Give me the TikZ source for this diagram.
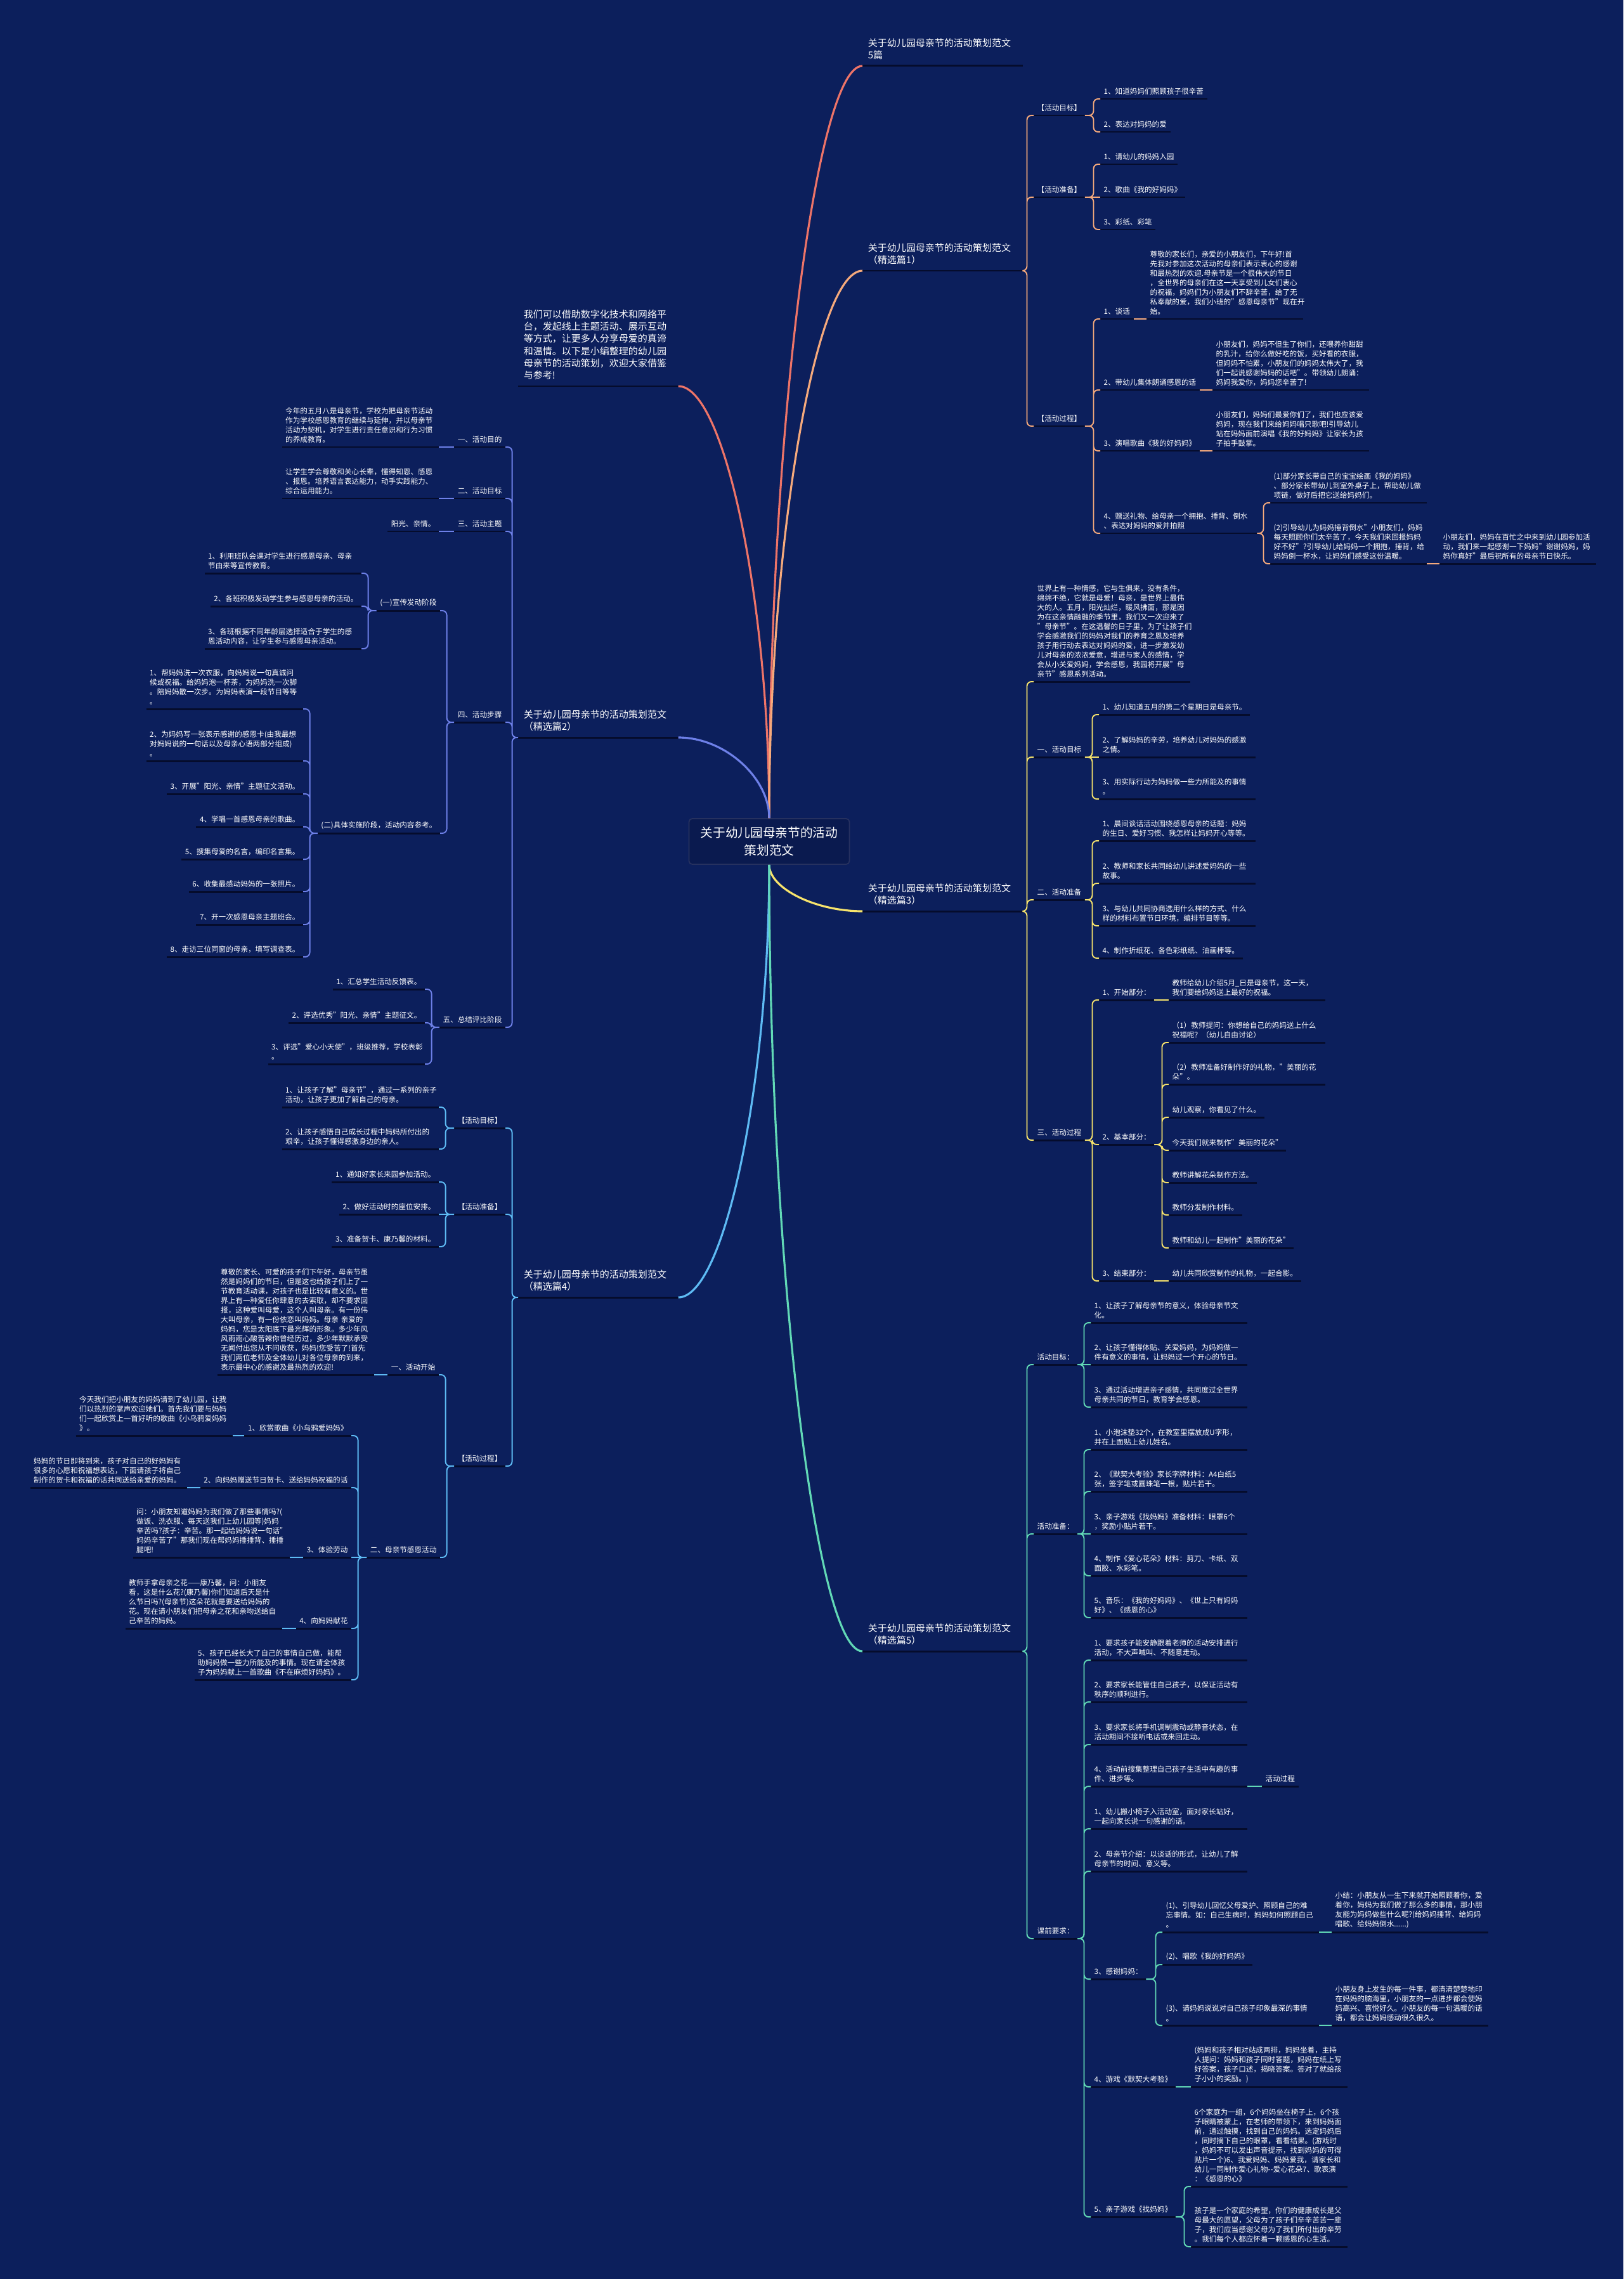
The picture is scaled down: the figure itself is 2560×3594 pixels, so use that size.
\documentclass[tikz,border=0pt]{standalone}
\usepackage{fontspec}
\setmainfont{Noto Sans CJK SC}
\usepackage{tikz}

\definecolor{bgblue}{HTML}{0C1F5C}
\definecolor{rootfill}{HTML}{0A1A4F}
\definecolor{rootline}{HTML}{26315F}
\definecolor{ulc}{HTML}{050C2C}
\definecolor{cred}{HTML}{EE7468}
\definecolor{corange}{HTML}{F6AA7C}
\definecolor{cpurple}{HTML}{6E80E8}
\definecolor{cyellow}{HTML}{F8E46C}
\definecolor{cblue}{HTML}{5EBBF4}
\definecolor{cgreen}{HTML}{62D9B6}

\tikzset{
  uline/.style={draw=ulc, line width=0.85pt},
  txt/.style={text=white, inner xsep=1.4pt, inner ysep=1.6pt, align=left,
    font=\fontsize{3.3}{4.27}\selectfont,
    append after command={(\tikzlastnode.south west) edge[uline] (\tikzlastnode.south east)}},
  rt/.style={txt, anchor=south west},
  lt/.style={txt, anchor=south east},
  blk/.style={text width=2.36cm},
  ttl/.style={txt, anchor=south west, text width=2.35cm, inner xsep=2.3pt, inner ysep=2.6pt,
    font=\fontsize{4.27}{5.5}\selectfont},
  root/.style={draw=rootline, fill=rootfill, line width=0.5pt, rounded corners=1.5pt,
    minimum width=2.53cm, minimum height=0.72cm, text=white, align=center,
    font=\fontsize{5.6}{7.7}\selectfont},
  mainbr/.style={line width=0.9pt},
  br/.style={line width=0.55pt, rounded corners=2pt},
  rbr/.style={br, to path={-| ([xshift=-3pt]\tikztotarget.south west) -- (\tikztotarget.south west)}},
  lbr/.style={br, to path={-| ([xshift=3pt]\tikztotarget.south east) -- (\tikztotarget.south east)}},
  rst/.style={br, to path={-- (\tikztotarget.south west)}},
  lst/.style={br, to path={-- (\tikztotarget.south east)}},
}

\begin{document}
\begin{tikzpicture}[x=0.01cm, y=-0.01cm]

% Background
\fill[bgblue] (0,0) rectangle (2560,3594);
\useasboundingbox (0,0) rectangle (2560,3594);

% Root
\node[root] (root) at (1213,1327) {关于幼儿园母亲节的活动\\策划范文};

% Titles
\node[ttl] (t0) at (1360,104) {关于幼儿园母亲节的活动策划范文\\5篇};
\node[ttl] (intro) at (817,609) {我们可以借助数字化技术和网络平\\台，发起线上主题活动、展示互动\\等方式，让更多人分享母爱的真谛\\和温情。以下是小编整理的幼儿园\\母亲节的活动策划，欢迎大家借鉴\\与参考!};
\node[ttl] (t1) at (1360,427) {关于幼儿园母亲节的活动策划范文\\（精选篇1）};
\node[ttl] (t2) at (817,1163) {关于幼儿园母亲节的活动策划范文\\（精选篇2）};
\node[ttl] (t3) at (1360,1437) {关于幼儿园母亲节的活动策划范文\\（精选篇3）};
\node[ttl] (t4) at (817,2046) {关于幼儿园母亲节的活动策划范文\\（精选篇4）};
\node[ttl] (t5) at (1360,2604) {关于幼儿园母亲节的活动策划范文\\（精选篇5）};

\draw[mainbr, cred] (root.north) .. controls +(0,-594) and +(-74,0) .. (t0.south west);
\draw[mainbr, cred] (root.north) .. controls +(0,-341) and +(73,0) .. (intro.south east);
\draw[mainbr, corange] (root.north) .. controls +(0,-432) and +(-74,0) .. (t1.south west);
\draw[mainbr, cpurple] (root.north) .. controls +(0,-64) and +(73,0) .. (t2.south east);
\draw[mainbr, cyellow] (root.south) .. controls +(0,37) and +(-74,0) .. (t3.south west);
\draw[mainbr, cblue] (root.south) .. controls +(0,342) and +(73,0) .. (t4.south east);
\draw[mainbr, cgreen] (root.south) .. controls +(0,620) and +(-74,0) .. (t5.south west);

% Branch 1
\node[rt] (p1a) at (1630,182) {【活动目标】};
\node[rt] (p1a1) at (1735,156) {1、知道妈妈们照顾孩子很辛苦};
\node[rt] (p1a2) at (1735,208) {2、表达对妈妈的爱};
\node[rt] (p1b) at (1630,311) {【活动准备】};
\node[rt] (p1b1) at (1735,259) {1、请幼儿的妈妈入园};
\node[rt] (p1b2) at (1735,311) {2、歌曲《我的好妈妈》};
\node[rt] (p1b3) at (1735,362) {3、彩纸、彩笔};
\node[rt] (p1c) at (1630,672) {【活动过程】};
\node[rt] (p1c1) at (1735,503) {1、谈话};
\node[rt, blk] (p1c1a) at (1808,503) {尊敬的家长们，亲爱的小朋友们，下午好!首\\先我对参加这次活动的母亲们表示衷心的感谢\\和最热烈的欢迎.母亲节是一个很伟大的节日\\，全世界的母亲们在这一天享受到儿女们衷心\\的祝福，妈妈们为小朋友们不辞辛苦，给了无\\私奉献的爱，我们小班的"感恩母亲节"现在开\\始。};
\node[rt] (p1c2) at (1735,615) {2、带幼儿集体朗诵感恩的话};
\node[rt, blk] (p1c2a) at (1912,615) {小朋友们，妈妈不但生了你们，还喂养你甜甜\\的乳汁，给你么做好吃的饭，买好看的衣服，\\但妈妈不怕累，小朋友们的妈妈太伟大了，我\\们一起说感谢妈妈的话吧"。带领幼儿朗诵：\\妈妈我爱你，妈妈您辛苦了!};
\node[rt] (p1c3) at (1735,711) {3、演唱歌曲《我的好妈妈》};
\node[rt, blk] (p1c3a) at (1912,711) {小朋友们，妈妈们最爱你们了，我们也应该爱\\妈妈，现在我们来给妈妈唱只歌吧!引导幼儿\\站在妈妈面前演唱《我的好妈妈》让家长为孩\\子拍手鼓掌。};
\node[rt, blk] (p1c4) at (1735,841) {4、赠送礼物、给母亲一个拥抱、捶背、倒水\\、表达对妈妈的爱并拍照};
\node[rt, blk] (p1c4a) at (2003,793) {(1)部分家长带自己的宝宝绘画《我的妈妈》\\、部分家长带幼儿到室外桌子上，帮助幼儿做\\项链，做好后把它送给妈妈们。};
\node[rt, blk] (p1c4b) at (2003,889) {(2)引导幼儿为妈妈捶背倒水"小朋友们，妈妈\\每天照顾你们太辛苦了，今天我们来回报妈妈\\好不好"?引导幼儿给妈妈一个拥抱，捶背，给\\妈妈倒一杯水，让妈妈们感受这份温暖。};
\node[rt, blk] (p1c4b1) at (2270,889) {小朋友们，妈妈在百忙之中来到幼儿园参加活\\动，我们来一起感谢一下妈妈"谢谢妈妈，妈\\妈你真好"最后祝所有的母亲节日快乐。};

\draw[rbr, corange] (t1.south east) to (p1a) (t1.south east) to (p1b) (t1.south east) to (p1c);
\draw[rbr, corange] (p1a.south east) to (p1a1) (p1a.south east) to (p1a2);
\draw[rbr, corange] (p1b.south east) to (p1b1) (p1b.south east) to (p1b3);
\draw[rbr, corange] (p1c.south east) to (p1c1) (p1c.south east) to (p1c2) (p1c.south east) to (p1c3) (p1c.south east) to (p1c4);
\draw[rbr, corange] (p1c4.south east) to (p1c4a) (p1c4.south east) to (p1c4b);
\draw[rst, corange] (p1b.south east) to (p1b2) (p1c1.south east) to (p1c1a) (p1c2.south east) to (p1c2a)
  (p1c3.south east) to (p1c3a) (p1c4b.south east) to (p1c4b1);

% Branch 2
\node[lt] (p2a) at (797,705) {一、活动目的};
\node[lt, blk] (p2a1) at (692,705) {今年的五月八是母亲节，学校为把母亲节活动\\作为学校感恩教育的继续与延伸，并以母亲节\\活动为契机，对学生进行责任意识和行为习惯\\的养成教育。};
\node[lt] (p2b) at (797,786) {二、活动目标};
\node[lt, blk] (p2b1) at (692,786) {让学生学会尊敬和关心长辈，懂得知恩、感恩\\、报恩。培养语言表达能力，动手实践能力、\\综合运用能力。};
\node[lt] (p2c) at (797,838) {三、活动主题};
\node[lt] (p2c1) at (692,838) {阳光、亲情。};
\node[lt] (p2d) at (797,1139) {四、活动步骤};
\node[lt] (p2d1) at (694,963) {(一)宣传发动阶段};
\node[lt, blk] (p2d1a) at (570,904) {1、利用班队会课对学生进行感恩母亲、母亲\\节由来等宣传教育。};
\node[lt] (p2d1b) at (570,956) {2、各班积极发动学生参与感恩母亲的活动。};
\node[lt, blk] (p2d1c) at (570,1023) {3、各班根据不同年龄层选择适合于学生的感\\恩活动内容，让学生参与感恩母亲活动。};
\node[lt] (p2d2) at (694,1314) {(二)具体实施阶段，活动内容参考。};
\node[lt, blk] (p2d2a) at (478,1118) {1、帮妈妈洗一次衣服，向妈妈说一句真诚问\\候或祝福。给妈妈泡一杯茶，为妈妈洗一次脚\\。陪妈妈散一次步。为妈妈表演一段节目等等\\。};
\node[lt, blk] (p2d2b) at (478,1200) {2、为妈妈写一张表示感谢的感恩卡(由我最想\\对妈妈说的一句话以及母亲心语两部分组成)\\。};
\node[lt] (p2d2c) at (478,1252) {3、开展"阳光、亲情"主题征文活动。};
\node[lt] (p2d2d) at (478,1304) {4、学唱一首感恩母亲的歌曲。};
\node[lt] (p2d2e) at (478,1355) {5、搜集母爱的名言，编印名言集。};
\node[lt] (p2d2f) at (478,1406) {6、收集最感动妈妈的一张照片。};
\node[lt] (p2d2g) at (478,1458) {7、开一次感恩母亲主题班会。};
\node[lt] (p2d2h) at (478,1509) {8、走访三位同窗的母亲，填写调查表。};
\node[lt] (p2e) at (797,1620) {五、总结评比阶段};
\node[lt] (p2e1) at (670,1560) {1、汇总学生活动反馈表。};
\node[lt] (p2e2) at (670,1613) {2、评选优秀"阳光、亲情"主题征文。};
\node[lt, blk] (p2e3) at (670,1678) {3、评选"爱心小天使"，班级推荐，学校表彰\\。};

\draw[lbr, cpurple] (t2.south west) to (p2a) (t2.south west) to (p2b) (t2.south west) to (p2c) (t2.south west) to (p2d) (t2.south west) to (p2e);
\draw[lst, cpurple] (p2a.south west) to (p2a1) (p2b.south west) to (p2b1) (p2c.south west) to (p2c1);
\draw[lbr, cpurple] (p2d.south west) to (p2d1) (p2d.south west) to (p2d2);
\draw[lbr, cpurple] (p2d1.south west) to (p2d1a) (p2d1.south west) to (p2d1b) (p2d1.south west) to (p2d1c);
\draw[lbr, cpurple] (p2d2.south west) to (p2d2a) (p2d2.south west) to (p2d2b) (p2d2.south west) to (p2d2c) (p2d2.south west) to (p2d2d);
\draw[lbr, cpurple] (p2d2.south west) to (p2d2e) (p2d2.south west) to (p2d2f) (p2d2.south west) to (p2d2g) (p2d2.south west) to (p2d2h);
\draw[lbr, cpurple] (p2e.south west) to (p2e1) (p2e.south west) to (p2e2) (p2e.south west) to (p2e3);

% Branch 3
\node[rt, blk] (p3a) at (1630,1075) {世界上有一种情感，它与生俱来，没有条件，\\绵绵不绝，它就是母爱！母亲，是世界上最伟\\大的人。五月，阳光灿烂，暖风拂面，那是因\\为在这亲情融融的季节里，我们又一次迎来了\\"母亲节"。在这温馨的日子里，为了让孩子们\\学会感激我们的妈妈对我们的养育之恩及培养\\孩子用行动去表达对妈妈的爱，进一步激发幼\\儿对母亲的浓浓爱意，增进与家人的感情，学\\会从小关爱妈妈，学会感恩，我园将开展"母\\亲节"感恩系列活动。};
\node[rt] (p3b) at (1630,1194) {一、活动目标};
\node[rt] (p3b1) at (1733,1127) {1、幼儿知道五月的第二个星期日是母亲节。};
\node[rt, blk] (p3b2) at (1733,1194) {2、了解妈妈的辛劳，培养幼儿对妈妈的感激\\之情。};
\node[rt, blk] (p3b3) at (1733,1260) {3、用实际行动为妈妈做一些力所能及的事情\\。};
\node[rt] (p3c) at (1630,1419) {二、活动准备};
\node[rt, blk] (p3c1) at (1733,1326) {1、晨间谈话活动围绕感恩母亲的话题：妈妈\\的生日、爱好习惯、我怎样让妈妈开心等等。};
\node[rt, blk] (p3c2) at (1733,1393) {2、教师和家长共同给幼儿讲述爱妈妈的一些\\故事。};
\node[rt, blk] (p3c3) at (1733,1460) {3、与幼儿共同协商选用什么样的方式、什么\\样的材料布置节日环境，编排节目等等。};
\node[rt] (p3c4) at (1733,1511) {4、制作折纸花、各色彩纸纸、油画棒等。};
\node[rt] (p3d) at (1630,1798) {三、活动过程};
\node[rt] (p3d1) at (1733,1577) {1、开始部分：};
\node[rt, blk] (p3d1a) at (1843,1577) {教师给幼儿介绍5月\_日是母亲节，这一天，\\我们要给妈妈送上最好的祝福。};
\node[rt] (p3d2) at (1733,1805) {2、基本部分：};
\node[rt, blk] (p3d2a) at (1843,1644) {（1）教师提问：你想给自己的妈妈送上什么\\祝福呢？（幼儿自由讨论）};
\node[rt, blk] (p3d2b) at (1843,1710) {（2）教师准备好制作好的礼物，"美丽的花\\朵"。};
\node[rt] (p3d2c) at (1843,1762) {幼儿观察，你看见了什么。};
\node[rt] (p3d2d) at (1843,1814) {今天我们就来制作"美丽的花朵"};
\node[rt] (p3d2e) at (1843,1865) {教师讲解花朵制作方法。};
\node[rt] (p3d2f) at (1843,1916) {教师分发制作材料。};
\node[rt] (p3d2g) at (1843,1968) {教师和幼儿一起制作"美丽的花朵"};
\node[rt] (p3d3) at (1733,2020) {3、结束部分：};
\node[rt] (p3d3a) at (1843,2020) {幼儿共同欣赏制作的礼物，一起合影。};

\draw[rbr, cyellow] (t3.south east) to (p3a) (t3.south east) to (p3b) (t3.south east) to (p3c) (t3.south east) to (p3d);
\draw[rbr, cyellow] (p3b.south east) to (p3b1) (p3b.south east) to (p3b3);
\draw[rbr, cyellow] (p3c.south east) to (p3c1) (p3c.south east) to (p3c2) (p3c.south east) to (p3c3) (p3c.south east) to (p3c4);
\draw[rbr, cyellow] (p3d.south east) to (p3d1) (p3d.south east) to (p3d2) (p3d.south east) to (p3d3);
\draw[rst, cyellow] (p3b.south east) to (p3b2) (p3d1.south east) to (p3d1a) (p3d3.south east) to (p3d3a);
\draw[rbr, cyellow] (p3d2.south east) to (p3d2a) (p3d2.south east) to (p3d2b) (p3d2.south east) to (p3d2c) (p3d2.south east) to (p3d2d);
\draw[rbr, cyellow] (p3d2.south east) to (p3d2e) (p3d2.south east) to (p3d2f) (p3d2.south east) to (p3d2g);

% Branch 4
\node[lt] (p4a) at (797,1779) {【活动目标】};
\node[lt, blk] (p4a1) at (692,1746) {1、让孩子了解"母亲节"，通过一系列的亲子\\活动，让孩子更加了解自己的母亲。};
\node[lt, blk] (p4a2) at (692,1812) {2、让孩子感悟自己成长过程中妈妈所付出的\\艰辛，让孩子懂得感激身边的亲人。};
\node[lt] (p4b) at (797,1915) {【活动准备】};
\node[lt] (p4b1) at (692,1864) {1、通知好家长来园参加活动。};
\node[lt] (p4b2) at (692,1915) {2、做好活动时的座位安排。};
\node[lt] (p4b3) at (692,1966) {3、准备贺卡、康乃馨的材料。};
\node[lt] (p4c) at (797,2312) {【活动过程】};
\node[lt] (p4c1) at (692,2168) {一、活动开始};
\node[lt, blk] (p4c1a) at (590,2168) {尊敬的家长、可爱的孩子们下午好，母亲节虽\\然是妈妈们的节日，但是这也给孩子们上了一\\节教育活动课，对孩子也是比较有意义的。世\\界上有一种爱任你肆意的去索取，却不要求回\\报，这种爱叫母爱，这个人叫母亲。有一份伟\\大叫母亲，有一份依恋叫妈妈。母亲 亲爱的\\妈妈，您是太阳底下最光辉的形象。多少年风\\风雨雨心酸苦辣你曾经历过，多少年默默承受\\无闻付出您从不问收获，妈妈!您受苦了!首先\\我们两位老师及全体幼儿对各位母亲的到来，\\表示最中心的感谢及最热烈的欢迎!};
\node[lt] (p4c2) at (694,2456) {二、母亲节感恩活动};
\node[lt] (p4c2a) at (554,2264) {1、欣赏歌曲《小乌鸦爱妈妈》};
\node[lt, blk] (p4c2a1) at (367,2264) {今天我们把小朋友的妈妈请到了幼儿园，让我\\们以热烈的掌声欢迎她们。首先我们要与妈妈\\们一起欣赏上一首好听的歌曲《小乌鸦爱妈妈\\》。};
\node[lt] (p4c2b) at (554,2346) {2、向妈妈赠送节日贺卡、送给妈妈祝福的话};
\node[lt, blk] (p4c2b1) at (295,2346) {妈妈的节日即将到来，孩子对自己的好妈妈有\\很多的心愿和祝福想表达，下面请孩子将自己\\制作的贺卡和祝福的话共同送给亲爱的妈妈。};
\node[lt] (p4c2c) at (554,2456) {3、体验劳动};
\node[lt, blk] (p4c2c1) at (457,2456) {问：小朋友知道妈妈为我们做了那些事情吗?(\\做饭、洗衣服、每天送我们上幼儿园等)妈妈\\辛苦吗?孩子：辛苦。那一起给妈妈说一句话"\\妈妈辛苦了"那我们现在帮妈妈捶捶背、捶捶\\腿吧!};
\node[lt] (p4c2d) at (554,2568) {4、向妈妈献花};
\node[lt, blk] (p4c2d1) at (445,2568) {教师手拿母亲之花——康乃馨，问：小朋友\\看，这是什么花?(康乃馨)你们知道后天是什\\么节日吗?(母亲节)这朵花就是要送给妈妈的\\花。现在请小朋友们把母亲之花和亲吻送给自\\己辛苦的妈妈。};
\node[lt, blk] (p4c2e) at (554,2649) {5、孩子已经长大了自己的事情自己做，能帮\\助妈妈做一些力所能及的事情。现在请全体孩\\子为妈妈献上一首歌曲《不在麻烦好妈妈》。};

\draw[lbr, cblue] (t4.south west) to (p4a) (t4.south west) to (p4b) (t4.south west) to (p4c);
\draw[lbr, cblue] (p4a.south west) to (p4a1) (p4a.south west) to (p4a2);
\draw[lbr, cblue] (p4b.south west) to (p4b1) (p4b.south west) to (p4b3);
\draw[lbr, cblue] (p4c.south west) to (p4c1) (p4c.south west) to (p4c2);
\draw[lbr, cblue] (p4c2.south west) to (p4c2a) (p4c2.south west) to (p4c2b) (p4c2.south west) to (p4c2d) (p4c2.south west) to (p4c2e);
\draw[lst, cblue] (p4b.south west) to (p4b2) (p4c1.south west) to (p4c1a) (p4c2.south west) to (p4c2c);
\draw[lst, cblue] (p4c2a.south west) to (p4c2a1) (p4c2b.south west) to (p4c2b1) (p4c2c.south west) to (p4c2c1) (p4c2d.south west) to (p4c2d1);

% Branch 5
\node[rt] (p5a) at (1630,2152) {活动目标：};
\node[rt, blk] (p5a1) at (1720,2086) {1、让孩子了解母亲节的意义，体验母亲节文\\化。};
\node[rt, blk] (p5a2) at (1720,2152) {2、让孩子懂得体贴、关爱妈妈，为妈妈做一\\件有意义的事情，让妈妈过一个开心的节日。};
\node[rt, blk] (p5a3) at (1720,2219) {3、通过活动增进亲子感情，共同度过全世界\\母亲共同的节日，教育学会感恩。};
\node[rt] (p5b) at (1630,2419) {活动准备：};
\node[rt, blk] (p5b1) at (1720,2286) {1、小泡沫垫32个，在教室里摆放成U字形，\\并在上面贴上幼儿姓名。};
\node[rt, blk] (p5b2) at (1720,2352) {2、《默契大考验》家长字牌材料：A4白纸5\\张，签字笔或圆珠笔一根，贴片若干。};
\node[rt, blk] (p5b3) at (1720,2419) {3、亲子游戏《找妈妈》准备材料：眼罩6个\\，奖励小贴片若干。};
\node[rt, blk] (p5b4) at (1720,2485) {4、制作《爱心花朵》材料：剪刀、卡纸、双\\面胶、水彩笔。};
\node[rt, blk] (p5b5) at (1720,2551) {5、音乐：《我的好妈妈》、《世上只有妈妈\\好》、《感恩的心》};
\node[rt] (p5c) at (1630,3057) {课前要求：};
\node[rt, blk] (p5c1) at (1720,2618) {1、要求孩子能安静跟着老师的活动安排进行\\活动，不大声喊叫、不随意走动。};
\node[rt, blk] (p5c2) at (1720,2684) {2、要求家长能管住自己孩子，以保证活动有\\秩序的顺利进行。};
\node[rt, blk] (p5c3) at (1720,2751) {3、要求家长将手机调制震动或静音状态，在\\活动期间不接听电话或来回走动。};
\node[rt, blk] (p5c4) at (1720,2817) {4、活动前搜集整理自己孩子生活中有趣的事\\件、进步等。};
\node[rt] (p5c4a) at (1990,2817) {活动过程};
\node[rt, blk] (p5c5) at (1720,2884) {1、幼儿搬小椅子入活动室，面对家长站好，\\一起向家长说一句感谢的话。};
\node[rt, blk] (p5c6) at (1720,2951) {2、母亲节介绍：以谈话的形式，让幼儿了解\\母亲节的时间、意义等。};
\node[rt] (p5c7) at (1720,3121) {3、感谢妈妈：};
\node[rt, blk] (p5c7a) at (1833,3047) {(1)、引导幼儿回忆父母爱护、照顾自己的难\\忘事情。如：自己生病时，妈妈如何照顾自己\\。};
\node[rt, blk] (p5c7a1) at (2100,3047) {小结：小朋友从一生下来就开始照顾着你，爱\\着你，妈妈为我们做了那么多的事情，那小朋\\友能为妈妈做些什么呢?(给妈妈捶背、给妈妈\\唱歌、给妈妈倒水......)};
\node[rt] (p5c7b) at (1833,3098) {(2)、唱歌《我的好妈妈》};
\node[rt, blk] (p5c7c) at (1833,3194) {(3)、请妈妈说说对自己孩子印象最深的事情\\。};
\node[rt, blk] (p5c7c1) at (2100,3194) {小朋友身上发生的每一件事，都清清楚楚地印\\在妈妈的脑海里，小朋友的一点进步都会使妈\\妈高兴、喜悦好久。小朋友的每一句温暖的话\\语，都会让妈妈感动很久很久。};
\node[rt] (p5c8) at (1720,3291) {4、游戏《默契大考验》};
\node[rt, blk] (p5c8a) at (1878,3291) {(妈妈和孩子相对站成两排，妈妈坐着，主持\\人提问：妈妈和孩子同时答题，妈妈在纸上写\\好答案，孩子口述，揭晓答案。答对了就给孩\\子小小的奖励。)};
\node[rt] (p5c9) at (1720,3496) {5、亲子游戏《找妈妈》};
\node[rt, blk] (p5c9a) at (1878,3448) {6个家庭为一组，6个妈妈坐在椅子上，6个孩\\子眼睛被蒙上，在老师的带领下，来到妈妈面\\前，通过触摸，找到自己的妈妈。选定妈妈后\\，同时摘下自己的眼罩，看看结果。(游戏时\\，妈妈不可以发出声音提示，找到妈妈的可得\\贴片一个)6、我爱妈妈、妈妈爱我，请家长和\\幼儿一同制作爱心礼物-{}-爱心花朵7、歌表演\\：《感恩的心》};
\node[rt, blk] (p5c9b) at (1878,3543) {孩子是一个家庭的希望，你们的健康成长是父\\母最大的愿望，父母为了孩子们辛辛苦苦一辈\\子，我们应当感谢父母为了我们所付出的辛劳\\。我们每个人都应怀着一颗感恩的心生活。};

\draw[rbr, cgreen] (t5.south east) to (p5a) (t5.south east) to (p5b) (t5.south east) to (p5c);
\draw[rbr, cgreen] (p5a.south east) to (p5a1) (p5a.south east) to (p5a3);
\draw[rbr, cgreen] (p5b.south east) to (p5b1) (p5b.south east) to (p5b2) (p5b.south east) to (p5b4) (p5b.south east) to (p5b5);
\draw[rbr, cgreen] (p5c.south east) to (p5c1) (p5c.south east) to (p5c2) (p5c.south east) to (p5c3) (p5c.south east) to (p5c4) (p5c.south east) to (p5c5);
\draw[rbr, cgreen] (p5c.south east) to (p5c6) (p5c.south east) to (p5c7) (p5c.south east) to (p5c8) (p5c.south east) to (p5c9);
\draw[rst, cgreen] (p5a.south east) to (p5a2) (p5b.south east) to (p5b3) (p5c4.south east) to (p5c4a) (p5c8.south east) to (p5c8a);
\draw[rbr, cgreen] (p5c7.south east) to (p5c7a) (p5c7.south east) to (p5c7b) (p5c7.south east) to (p5c7c);
\draw[rst, cgreen] (p5c7a.south east) to (p5c7a1) (p5c7c.south east) to (p5c7c1);
\draw[rbr, cgreen] (p5c9.south east) to (p5c9a) (p5c9.south east) to (p5c9b);

\end{tikzpicture}
\end{document}
